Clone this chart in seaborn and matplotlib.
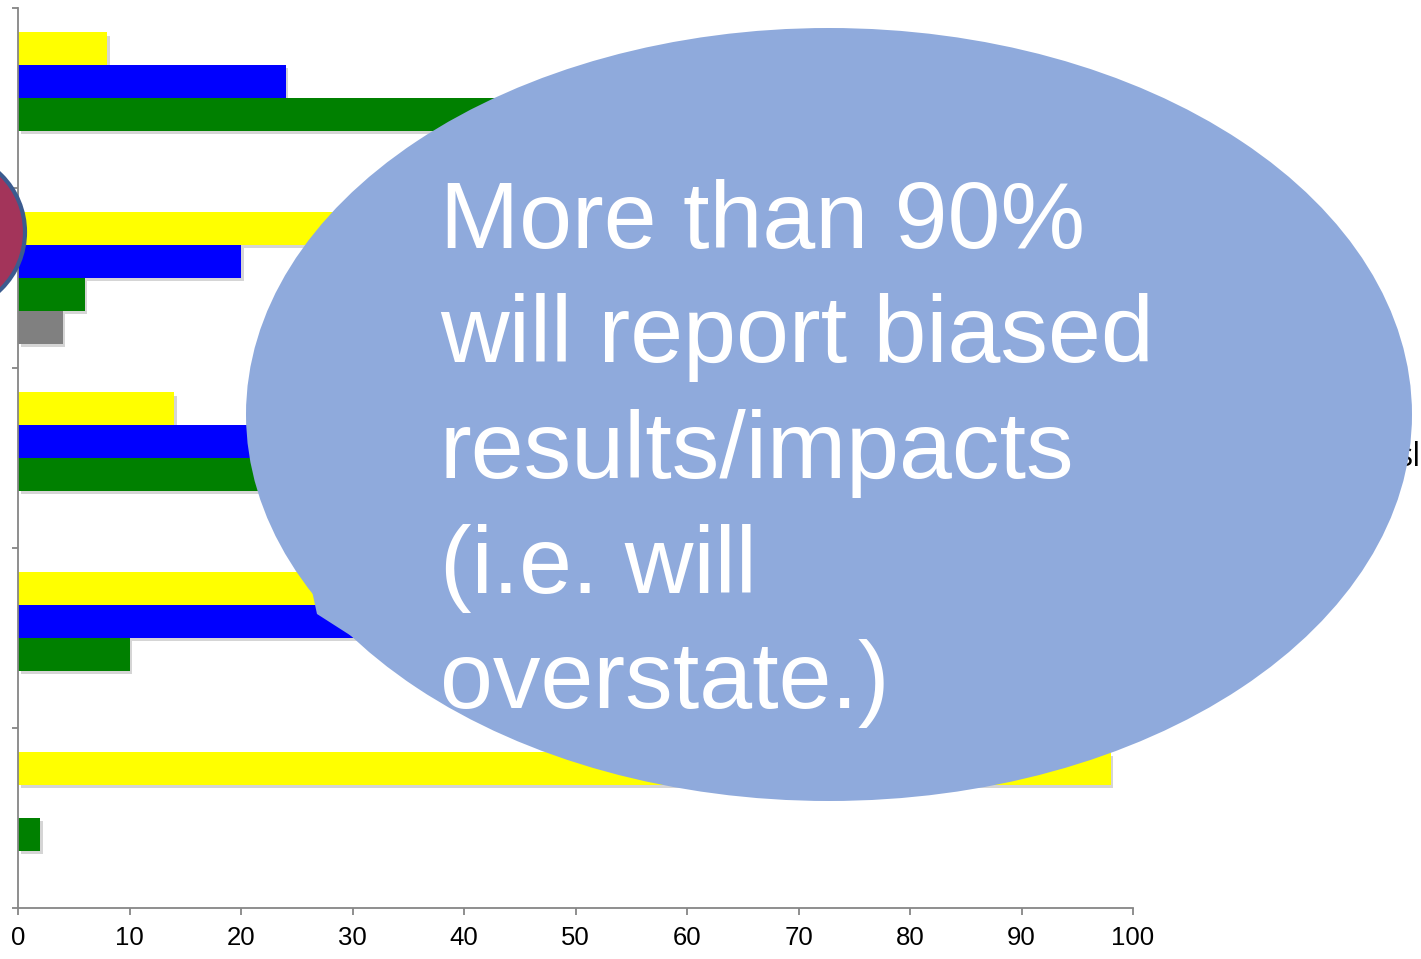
import matplotlib
matplotlib.use("Agg")
import matplotlib.pyplot as plt
import matplotlib.patheffects as pe
from matplotlib.patches import Ellipse, Polygon
import seaborn as sns
import pandas as pd
import numpy as np

# ---- data (values hidden by the callout are estimates) ----
categories = ["Category 1", "Category 2", "Category 3", "Category 4", "Category 5"]
series_names = ["Series 1", "Series 2", "Series 3", "Series 4"]
yellow_vals = [8, 70, 14, 40, 98]
blue_vals = [24, 20, 43, 50, 0]
green_vals = [68, 6, 43, 10, 2]
gray_vals = [0, 4, 0, 0, 0]
series_colors = ["#FFFF00", "#0000FF", "#008000", "#808080"]
x_ticks = [0, 10, 20, 30, 40, 50, 60, 70, 80, 90, 100]
callout_lines = ["More than 90%", "will report biased", "results/impacts", "(i.e. will", "overstate.)"]

rows = []
for name, vals in zip(series_names, [yellow_vals, blue_vals, green_vals, gray_vals]):
    for c, v in zip(categories, vals):
        rows.append({"category": c, "series": name, "value": v})
df = pd.DataFrame(rows)

sns.set_style("white")
plt.rcParams["font.family"] = ["Liberation Sans", "DejaVu Sans"]

W, H = 1421, 959
fig = plt.figure(figsize=(W / 100, H / 100), dpi=100)
ax = fig.add_axes([18 / W, 1 - 908 / H, (1133 - 18) / W, 900 / H])

sns.barplot(data=df, y="category", x="value", hue="series", orient="h",
            order=categories, hue_order=series_names, palette=series_colors,
            width=0.728, dodge=True, ax=ax, legend=False, errorbar=None,
            saturation=1.0, linewidth=0)

shadow = [pe.SimplePatchShadow(offset=(1.8, -2.2), shadow_rgbFace="#777777", alpha=0.3), pe.Normal()]
for p in ax.patches:
    if p.get_width() > 0:
        p.set_path_effects(shadow)
    else:
        p.set_visible(False)

ax.set_xlim(0, 100)
ax.set_ylim(len(categories) - 0.5, -0.5)
ax.set_xticks(x_ticks)
ax.set_xticklabels([str(t) for t in x_ticks], fontsize=18.5, color="black")
ax.set_yticks(np.arange(-0.5, len(categories), 1.0))
ax.set_yticklabels([])
ax.set_xlabel("")
ax.set_ylabel("")
spine_col = "#868686"
for s in ["top", "right"]:
    ax.spines[s].set_visible(False)
for s in ["left", "bottom"]:
    ax.spines[s].set_color(spine_col)
    ax.spines[s].set_linewidth(1.3)
ax.tick_params(axis="x", bottom=True, direction="out", length=5, width=1.3, color=spine_col, pad=8)
ax.tick_params(axis="y", left=True, direction="out", length=4.5, width=1.3, color=spine_col)
ax.grid(False)

# ---- overlay graphics (in figure pixel space) ----
def fx(px):
    return px / W

def fy(py):
    return 1 - py / H

# partially hidden legend text at right edge
fig.text(fx(1397), fy(466), "sl", fontsize=23, color="black", family=["Open Sans", "DejaVu Sans"],
         ha="left", va="baseline", zorder=5)

# oval callout
callout_col = "#8FAADC"
ell = Ellipse((fx(829), fy(414.5)), width=1166 / W, height=773 / H, transform=fig.transFigure,
              facecolor=callout_col, edgecolor="none", zorder=10)
fig.add_artist(ell)
tail = Polygon([(fx(317), fy(614)), (fx(300), fy(535)), (fx(600), fy(500)), (fx(470), fy(712))],
               closed=True, transform=fig.transFigure, facecolor=callout_col, edgecolor="none", zorder=10)
fig.add_artist(tail)

baselines = [248, 362, 478, 593, 708]
for line, b in zip(callout_lines, baselines):
    fig.text(fx(440), fy(b), line, fontsize=68.5, color="white", ha="left", va="baseline", zorder=11)

# red circle at left edge
circ = Ellipse((fx(-55), fy(232)), width=160 / W, height=160 / H, transform=fig.transFigure,
               facecolor="#A3345A", edgecolor="#3B5B8F", linewidth=3, zorder=12)
fig.add_artist(circ)

fig.savefig("out.png", dpi=100)
